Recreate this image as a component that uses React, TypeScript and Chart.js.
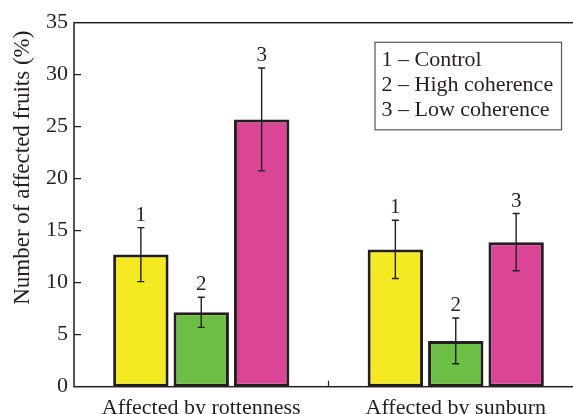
import React, { useEffect, useRef } from "react";
import { Chart, registerables } from "chart.js";

Chart.register(...registerables);

const categories = ["Affected by rottenness", "Affected by sunburn"];
const seriesNames = ["1 – Control", "2 – High coherence", "3 – Low coherence"];
const seriesTags = ["1", "2", "3"];
const seriesColors = ["#f5ea22", "#6dbe45", "#da4595"];
const controlValues = [12.7, 13.2];
const controlErrors = [2.6, 2.8];
const highValues = [7.15, 4.4];
const highErrors = [1.45, 2.2];
const lowValues = [25.7, 13.9];
const lowErrors = [4.95, 2.75];
const yMin = 0;
const yMax = 35;
const yStep = 5;
const yTitle = "Number of affected fruits (%)";

const ink = "#231f20";
const serif = "'Liberation Serif', 'Times New Roman', serif";

const decor = {
  id: "decor",
  afterDatasetsDraw(chart: any) {
    const ctx = chart.ctx;
    const { left, right, top, bottom } = chart.chartArea;
    const y = chart.scales.y;
    const x = chart.scales.x;
    ctx.save();
    ctx.strokeStyle = ink;
    ctx.fillStyle = ink;
    // error bars and tags
    chart.data.datasets.forEach((ds: any, di: number) => {
      const meta = chart.getDatasetMeta(di);
      meta.data.forEach((bar: any, i: number) => {
        const v = ds.data[i];
        const e = ds.errors[i];
        const cx = bar.x;
        const yTop = y.getPixelForValue(v + e);
        const yBot = y.getPixelForValue(v - e);
        ctx.lineWidth = 1.4;
        ctx.beginPath();
        ctx.moveTo(cx, yTop);
        ctx.lineTo(cx, yBot);
        ctx.moveTo(cx - 3.5, yTop);
        ctx.lineTo(cx + 3.5, yTop);
        ctx.moveTo(cx - 3.5, yBot);
        ctx.lineTo(cx + 3.5, yBot);
        ctx.stroke();
        ctx.font = `21px ${serif}`;
        ctx.textAlign = "center";
        ctx.textBaseline = "alphabetic";
        ctx.fillText(ds.tag, cx, yTop - 7);
      });
    });
    // frame
    ctx.lineWidth = 1.5;
    ctx.strokeRect(left, top, right - left, bottom - top);
    // inner y ticks
    ctx.lineWidth = 1.2;
    ctx.beginPath();
    y.ticks.forEach((t: any) => {
      if (t.value > yMin && t.value < yMax) {
        const py = y.getPixelForValue(t.value);
        ctx.moveTo(left, py);
        ctx.lineTo(left + 7, py);
      }
    });
    // category separators
    for (let i = 1; i < categories.length; i++) {
      const px = (x.getPixelForValue(i - 1) + x.getPixelForValue(i)) / 2;
      ctx.moveTo(px, bottom);
      ctx.lineTo(px, bottom - 6);
    }
    ctx.stroke();
    // y title
    ctx.save();
    ctx.translate(23, top + 145);
    ctx.rotate(-Math.PI / 2);
    ctx.font = `23px ${serif}`;
    ctx.textAlign = "center";
    ctx.textBaseline = "middle";
    ctx.fillText(yTitle, 0, 0);
    ctx.restore();
    // legend box
    const bx = left + 301;
    const by = top + 19.6;
    ctx.lineWidth = 1.2;
    ctx.strokeStyle = "#555";
    ctx.strokeRect(bx, by, 186.5, 87.5);
    ctx.font = `22px ${serif}`;
    ctx.textAlign = "left";
    ctx.textBaseline = "middle";
    seriesNames.forEach((name, i) => {
      ctx.fillText(name, bx + 6.5, by + 18 + i * 25);
    });
    ctx.restore();
  },
};

export default function App() {
  const ref = useRef<HTMLCanvasElement | null>(null);
  useEffect(() => {
    if (!ref.current) return;
    const values = [controlValues, highValues, lowValues];
    const errors = [controlErrors, highErrors, lowErrors];
    const chart = new Chart(ref.current, {
      type: "bar",
      data: {
        labels: categories,
        datasets: seriesNames.map((name, i) => ({
          label: name,
          tag: seriesTags[i],
          errors: errors[i],
          data: values[i],
          backgroundColor: seriesColors[i],
          borderColor: ink,
          borderWidth: 3,
          borderSkipped: false,
          categoryPercentage: 0.712,
          barPercentage: 0.917,
        })) as any,
      },
      options: {
        animation: false,
        responsive: false,
        maintainAspectRatio: false,
        layout: { padding: { top: 22.7, right: 17, left: 0, bottom: 0 } },
        plugins: { legend: { display: false }, tooltip: { enabled: false } },
        scales: {
          x: {
            grid: { display: false, drawTicks: false },
            border: { display: false },
            ticks: {
              color: ink,
              font: { family: serif, size: 22 },
              padding: 8,
              maxRotation: 0,
              autoSkip: false,
            },
            afterFit: (s: any) => {
              s.height = 27.3;
            },
          },
          y: {
            min: yMin,
            max: yMax,
            grid: { display: false, drawTicks: false },
            border: { display: false },
            ticks: {
              stepSize: yStep,
              color: ink,
              font: { family: serif, size: 22 },
              padding: 6,
            },
            afterFit: (s: any) => {
              s.width = 74;
            },
          },
        },
      },
      plugins: [decor],
    });
    return () => chart.destroy();
  }, []);
  return (
    <div
      style={{
        position: "fixed",
        left: 0,
        top: 0,
        width: 573,
        height: 414,
        overflow: "hidden",
        background: "#fff",
      }}
    >
      <canvas ref={ref} width={600} height={414} style={{ display: "block" }} />
    </div>
  );
}
